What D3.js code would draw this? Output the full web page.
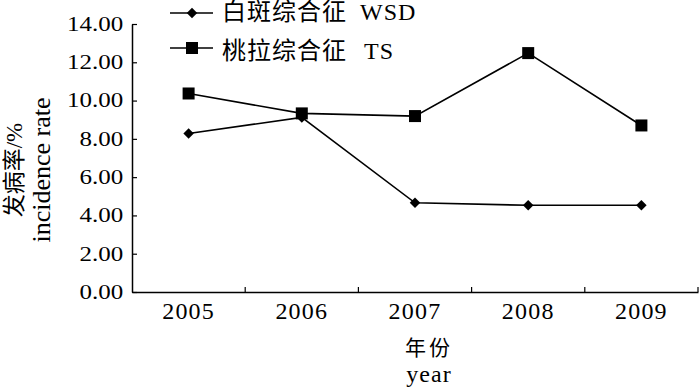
<!DOCTYPE html>
<html>
<head>
<meta charset="utf-8">
<script src="https://cdn.jsdelivr.net/npm/d3@7"></script>
<style>
  body { margin: 0; background: #fff; }
  svg { display: block; }
  text { font-family: "Liberation Serif", "Noto Sans CJK SC", serif; fill: #000; }
</style>
</head>
<body>
<svg width="700" height="389"></svg>
<script>
// data
const years = ["2005", "2006", "2007", "2008", "2009"];
const wsd = [8.28, 9.12, 4.66, 4.53, 4.53];
const ts = [10.37, 9.33, 9.19, 12.48, 8.70];
const yTicks = [0, 2, 4, 6, 8, 10, 12, 14];

const svg = d3.select("svg");
const plotL = 132, plotR = 698, plotT = 24, plotB = 292;

const x = d3.scaleBand().domain(years).range([plotL, plotR]);
const y = d3.scaleLinear().domain([0, 14]).range([plotB, plotT]);

// y axis
const yAxis = svg.append("g")
  .attr("transform", `translate(${plotL},0)`)
  .call(d3.axisLeft(y).tickValues(yTicks).tickFormat(d3.format(".2f")).tickSizeInner(-5).tickSizeOuter(0).tickPadding(7));
yAxis.select(".domain").attr("stroke", "#000").attr("stroke-width", 1.5);
yAxis.selectAll("line").attr("stroke", "#000").attr("stroke-width", 1.2);
yAxis.selectAll("text").attr("font-size", 20).attr("transform", "scale(1.25,1)")
  .style("font-family", "Liberation Serif");

// x axis, ticks between categories
const xAxis = svg.append("g")
  .attr("transform", `translate(0,${plotB})`)
  .call(d3.axisBottom(x).tickSize(0).tickPadding(10));
xAxis.select(".domain").attr("stroke", "#000").attr("stroke-width", 1.5);
xAxis.selectAll("text").attr("font-size", 24).attr("letter-spacing", 1.2)
  .style("font-family", "Liberation Serif");
xAxis.selectAll(".sep")
  .data(years.slice(1))
  .enter().append("line")
  .attr("x1", d => x(d)).attr("x2", d => x(d))
  .attr("y1", 0).attr("y2", -5)
  .attr("stroke", "#000").attr("stroke-width", 1.2);
xAxis.append("line")
  .attr("x1", plotR).attr("x2", plotR).attr("y1", 0).attr("y2", -5)
  .attr("stroke", "#000").attr("stroke-width", 1.2);

const cx = d => x(d) + x.bandwidth() / 2;
const line = d3.line().x(d => cx(d[0])).y(d => y(d[1]));

// series lines
[wsd, ts].forEach(vals => {
  svg.append("path")
    .datum(years.map((yr, i) => [yr, vals[i]]))
    .attr("d", line)
    .attr("fill", "none")
    .attr("stroke", "#000")
    .attr("stroke-width", 1.6);
});

// markers
svg.append("g").selectAll("path")
  .data(years.map((yr, i) => [yr, wsd[i]]))
  .enter().append("path")
  .attr("d", d3.symbol().type(d3.symbolDiamond2).size(70))
  .attr("transform", d => `translate(${cx(d[0])},${y(d[1])})`)
  .attr("fill", "#000");

svg.append("g").selectAll("rect")
  .data(years.map((yr, i) => [yr, ts[i]]))
  .enter().append("rect")
  .attr("x", d => cx(d[0]) - 6).attr("y", d => y(d[1]) - 6)
  .attr("width", 12).attr("height", 12)
  .attr("fill", "#000");

// legend
const legend = svg.append("g");
legend.append("line").attr("x1", 170).attr("x2", 213).attr("y1", 13).attr("y2", 13)
  .attr("stroke", "#000").attr("stroke-width", 1.6);
legend.append("path").attr("d", d3.symbol().type(d3.symbolDiamond2).size(70))
  .attr("transform", "translate(192,13)").attr("fill", "#000");
legend.append("line").attr("x1", 170).attr("x2", 213).attr("y1", 48).attr("y2", 48)
  .attr("stroke", "#000").attr("stroke-width", 1.6);
legend.append("rect").attr("x", 186).attr("y", 42).attr("width", 12).attr("height", 12).attr("fill", "#000");

const lg1 = legend.append("text").attr("y", 20).attr("font-size", 24);
lg1.append("tspan").attr("x", 222).attr("letter-spacing", 1).text("白斑综合征");
lg1.append("tspan").attr("x", 360).attr("letter-spacing", 1).text("WSD");
const lg2 = legend.append("text").attr("y", 59).attr("font-size", 24);
lg2.append("tspan").attr("x", 222).attr("letter-spacing", 1).text("桃拉综合征");
lg2.append("tspan").attr("x", 364).attr("letter-spacing", 1).text("TS");

// axis titles
svg.append("text").attr("transform", "translate(22,170) rotate(-90)")
  .attr("text-anchor", "middle").attr("font-size", 23).text("发病率/%");
svg.append("text").attr("transform", "translate(50,170) rotate(-90)")
  .attr("text-anchor", "middle").attr("font-size", 26).text("incidence rate");
svg.append("text").attr("x", 429).attr("y", 355)
  .attr("text-anchor", "middle").attr("font-size", 21).attr("letter-spacing", 3).text("年份");
svg.append("text").attr("x", 429).attr("y", 382)
  .attr("text-anchor", "middle").attr("font-size", 24).attr("letter-spacing", 1).text("year");
</script>
</body>
</html>
